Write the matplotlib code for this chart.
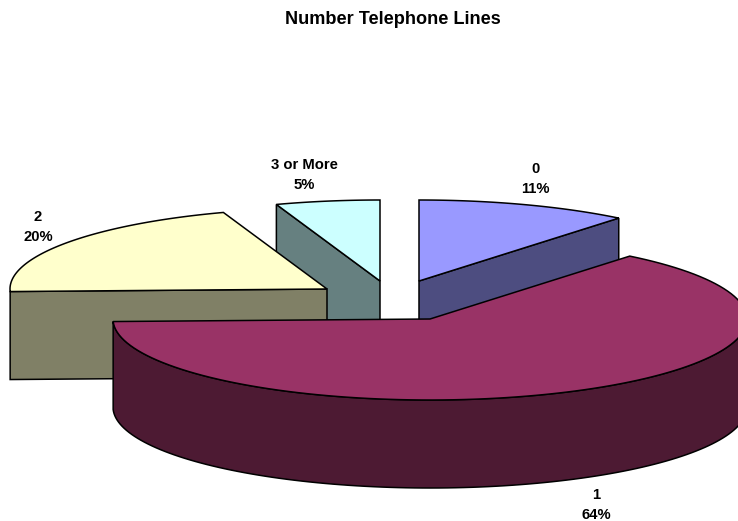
import numpy as np
import matplotlib
matplotlib.use('Agg')
import matplotlib.pyplot as plt

title = 'Number Telephone Lines'
categories = ['0', '1', '2', '3 or More']
shares = [10.85, 63.65, 20.2, 5.3]
top_colors = ['#9999FF', '#993366', '#FFFFCC', '#CCFFFF']
wall_colors = ['#4D4D80', '#4D1A33', '#808066', '#668080']

# layout, in pixels of the 738x521 picture
apex = [(419, 281), (430, 319), (327, 289), (380, 281)]
label_pos = [(535, 179), (596, 505), (38, 227), (304, 175)]
rx, ry, depth = 317, 81, 88

plt.rcParams['font.family'] = ['Liberation Sans', 'DejaVu Sans']

fig = plt.figure(figsize=(7.38, 5.21), dpi=100)
ax = fig.add_axes([0, 0, 1, 1])
ax.set_xlim(0, 738)
ax.set_ylim(521, 0)
ax.axis('off')


def rim(center, t0, t1):
    # points of the ellipse, angles clockwise from 12 o'clock
    t = np.radians(np.linspace(t0, t1, 120))
    return center[0] + rx * np.sin(t), center[1] - ry * np.cos(t)


def wall(center, t, color, z):
    x, y = rim(center, t, t)
    xs = [center[0], x[0], x[0], center[0]]
    ys = [center[1], y[0], y[0] + depth, center[1] + depth]
    ax.fill(xs, ys, facecolor=color, edgecolor='black', lw=1.1, zorder=z)


edges = 3.6 * np.cumsum([0] + shares)

# back slices first, the big one goes over everything
z = 2
for i in [3, 0, 2, 1]:
    t0, t1 = edges[i], edges[i + 1]
    c = apex[i]
    if i == 3 or i == 2:
        wall(c, t0, wall_colors[i], z)
    if i == 0:
        wall(c, t1, wall_colors[i], z)
    if i == 1:
        x, y = rim(c, 90, t1)
        ax.fill(np.r_[x, x[::-1]], np.r_[y, y[::-1] + depth],
                facecolor=wall_colors[i], edgecolor='black', lw=1.1, zorder=z)
    x, y = rim(c, t0, t1)
    ax.fill(np.r_[c[0], x], np.r_[c[1], y], facecolor=top_colors[i],
            edgecolor='black', lw=1.1, zorder=z + 0.5)
    z += 2

ax.text(393, 19, title, ha='center', va='center', fontsize=13.1, fontweight='bold', color='black')
for name, share, pos in zip(categories, shares, label_pos):
    ax.text(pos[0], pos[1], f'{name}\n{share:.0f}%', ha='center', va='center',
            fontsize=10.7, fontweight='bold', color='black', linespacing=1.58, zorder=20)

fig.savefig('out.png', dpi=100)
